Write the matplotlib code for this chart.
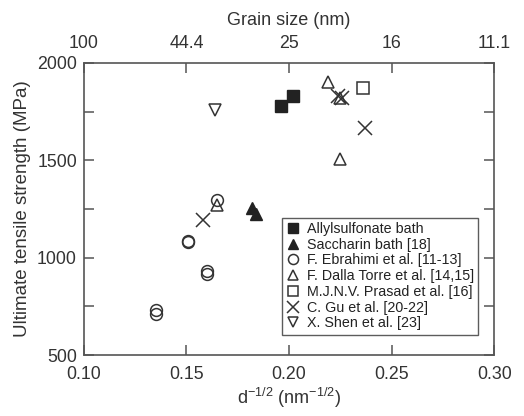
import matplotlib
matplotlib.use("Agg")
import matplotlib.pyplot as plt

plt.rcParams['font.family'] = ['Liberation Sans', 'DejaVu Sans']

# Data (d^-1/2 in nm^-1/2, UTS in MPa)
allyl_x = [0.196, 0.202]
allyl_y = [1778, 1832]
sacch_x = [0.182, 0.184]
sacch_y = [1255, 1222]
ebra_x = [0.135, 0.135, 0.151, 0.151, 0.160, 0.160, 0.165]
ebra_y = [712, 730, 1078, 1088, 918, 932, 1295]
dalla_x = [0.165, 0.219, 0.225, 0.225]
dalla_y = [1272, 1900, 1818, 1507]
prasad_x = [0.236]
prasad_y = [1870]
gu_x = [0.158, 0.224, 0.226, 0.237]
gu_y = [1195, 1828, 1818, 1665]
shen_x = [0.164]
shen_y = [1758]

xticks = [0.10, 0.15, 0.20, 0.25, 0.30]
xticklabels = ['0.10', '0.15', '0.20', '0.25', '0.30']
top_labels = ['100', '44.4', '25', '16', '11.1']
yticks = [500, 1000, 1500, 2000]
yminor = [750, 1250, 1750]

fig = plt.figure(figsize=(5.24, 4.16), dpi=100)
ax = fig.add_axes([0.160, 0.1466, 0.783, 0.702])

ec = '#333333'
tc = '#333333'
ms = 8.5
ax.plot(allyl_x, allyl_y, 's', ms=ms, mfc='#222222', mec='#222222', ls='none', label='Allylsulfonate bath')
ax.plot(sacch_x, sacch_y, '^', ms=ms+0.5, mfc='#222222', mec='#222222', ls='none', label='Saccharin bath [18]')
ax.plot(ebra_x, ebra_y, 'o', ms=ms, mfc='none', mec=ec, mew=1.1, ls='none', label='F. Ebrahimi et al. [11-13]')
ax.plot(dalla_x, dalla_y, '^', ms=ms+0.5, mfc='none', mec=ec, mew=1.1, ls='none', label='F. Dalla Torre et al. [14,15]')
ax.plot(prasad_x, prasad_y, 's', ms=ms, mfc='none', mec=ec, mew=1.1, ls='none', label='M.J.N.V. Prasad et al. [16]')
ax.plot(gu_x, gu_y, 'x', ms=ms+1, mec=ec, mew=1.1, ls='none', label='C. Gu et al. [20-22]')
ax.plot(shen_x, shen_y, 'v', ms=ms+0.5, mfc='none', mec=ec, mew=1.1, ls='none', label='X. Shen et al. [23]')

ax.set_xlim(0.10, 0.30)
ax.set_ylim(500, 2000)
ax.set_xticks(xticks)
ax.set_xticklabels(xticklabels)
ax.set_yticks(yticks)
ax.set_yticks(yminor, minor=True)

for s in ax.spines.values():
    s.set_color('#555555')
    s.set_linewidth(1.2)

ax.tick_params(axis='both', which='both', direction='in', length=7, width=1.1,
               color='#555555', labelsize=12.8, labelcolor=tc)
ax.tick_params(axis='y', which='both', right=True, pad=5)
ax.tick_params(axis='x', pad=8)

ax.set_xlabel('d$^{\\mathregular{-1/2}}$ (nm$^{\\mathregular{-1/2}}$)', fontsize=13, color=tc, labelpad=2)
ax.set_ylabel('Ultimate tensile strength (MPa)', fontsize=13.5, color=tc, labelpad=4)

ax2 = ax.twiny()
ax2.set_xlim(ax.get_xlim())
ax2.set_xticks(xticks)
ax2.set_xticklabels(top_labels)
ax2.tick_params(axis='x', direction='in', length=7, width=1.1, color='#555555',
                labelsize=12.8, labelcolor=tc, pad=8)
ax2.set_xlabel('Grain size (nm)', fontsize=13, color=tc, labelpad=7)
for s in ax2.spines.values():
    s.set_visible(False)

leg = ax.legend(loc='lower right', bbox_to_anchor=(0.968, 0.06), fontsize=10.3,
                frameon=True, fancybox=False, edgecolor='#333333',
                handlelength=0.9, handletextpad=0.5, borderpad=0.3,
                labelspacing=0.12, borderaxespad=0.2, markerscale=0.85)
leg.get_frame().set_linewidth(1.0)
for t in leg.get_texts():
    t.set_color('#222222')

fig.savefig('out.png', dpi=100)
